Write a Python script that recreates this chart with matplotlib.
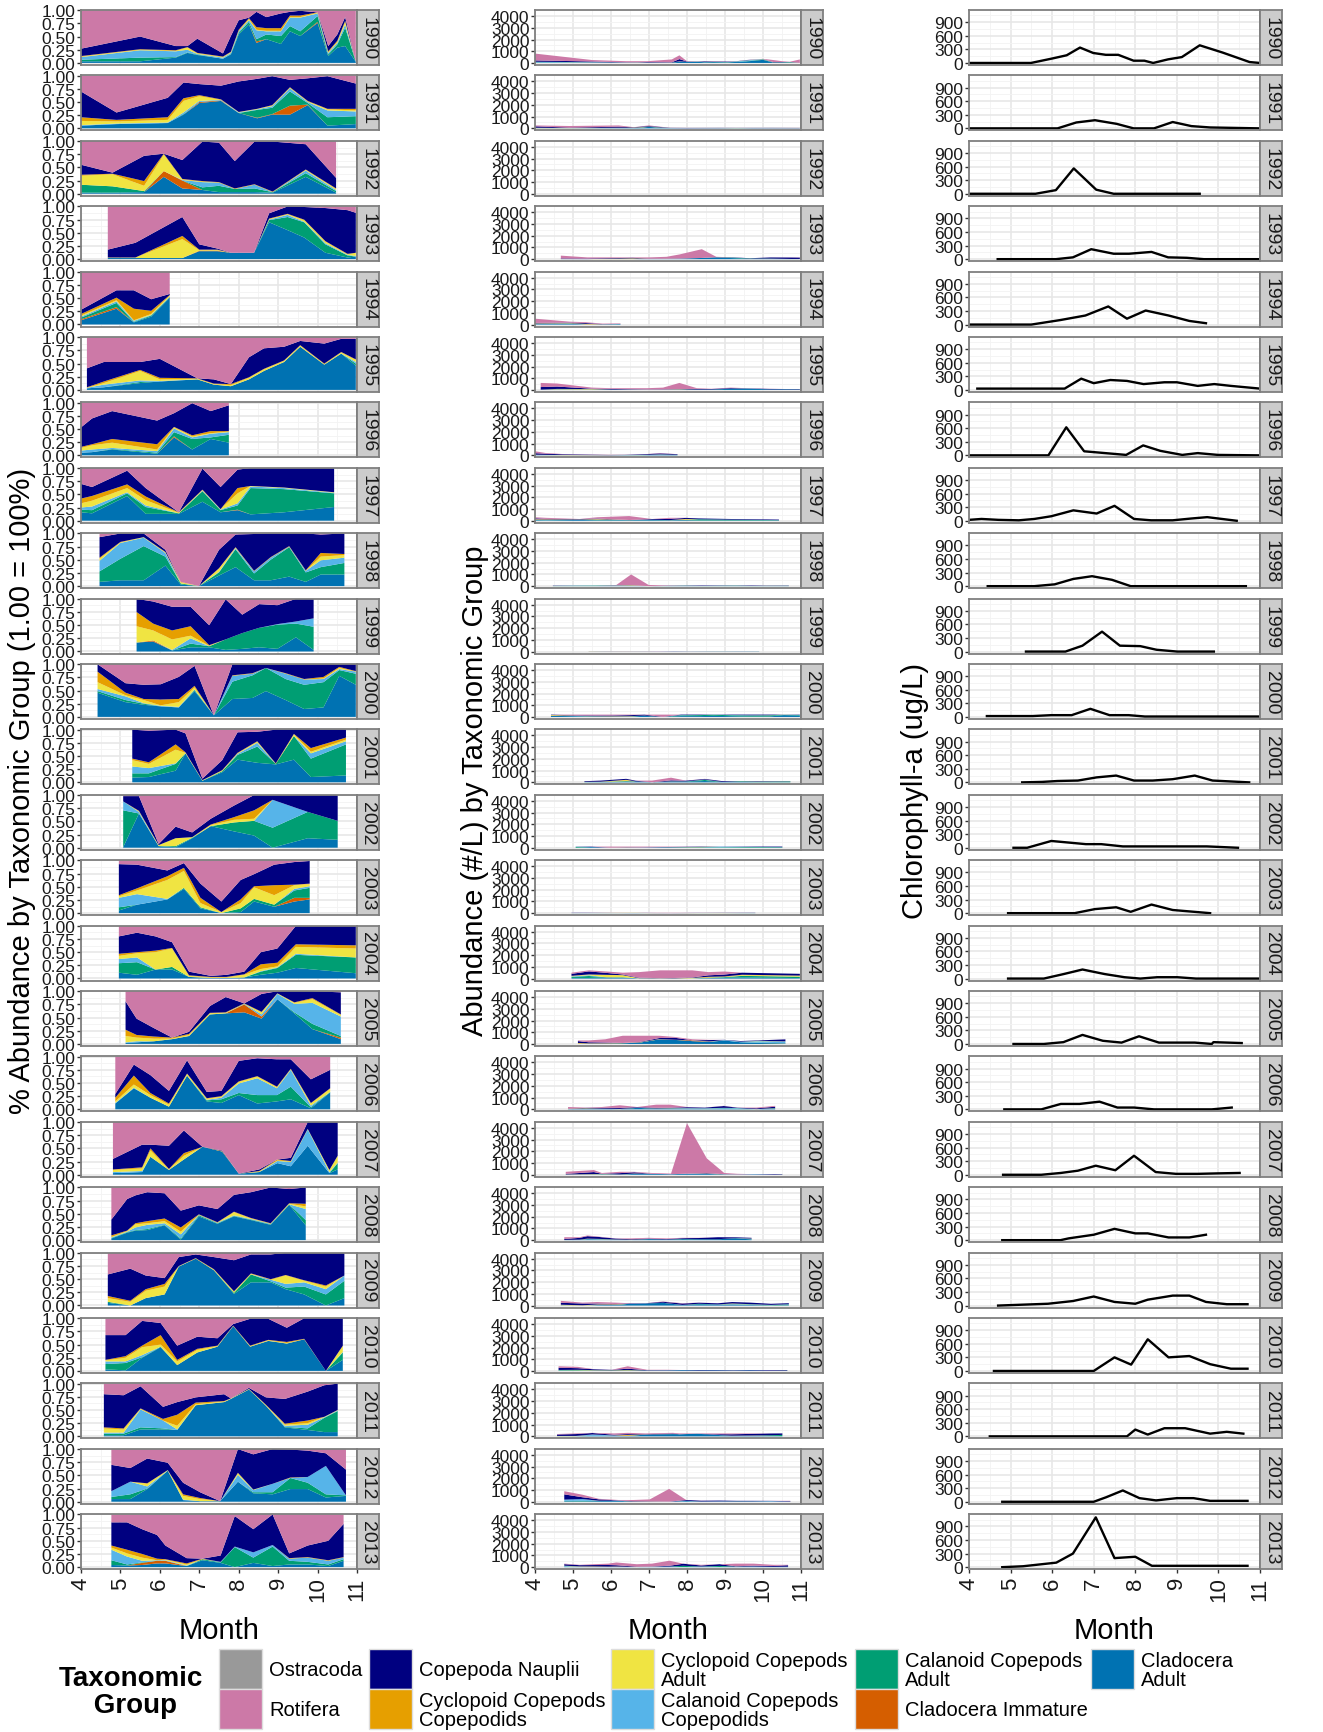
import numpy as np
import matplotlib.pyplot as plt
from matplotlib.patches import Rectangle

plt.rcParams['font.family'] = ['Liberation Sans', 'DejaVu Sans']

years = list(range(1990, 2014))

# legend order
groups = ['Ostracoda', 'Rotifera', 'Copepoda Nauplii', 'Cyclopoid Copepods\nCopepodids',
          'Cyclopoid Copepods\nAdult', 'Calanoid Copepods\nCopepodids', 'Calanoid Copepods\nAdult',
          'Cladocera Immature', 'Cladocera\nAdult']
group_colors = ['#999999', '#CC79A7', '#000080', '#E69F00', '#F0E442',
                '#56B4E9', '#009E73', '#D55E00', '#0072B2']

# sampling dates (month as decimal)
sample_month = {
    1990: [4.0, 5.5, 6.4, 6.7, 6.95, 7.6, 7.8, 8.0, 8.26, 8.45, 8.7, 9.07, 9.3, 9.56, 10.0, 10.27, 10.5, 10.7, 10.97],
    1991: [4.0, 4.9, 6.2, 6.6, 7.0, 7.55, 8.0, 8.47, 8.85, 9.3, 9.75, 10.25, 10.97],
    1992: [4.0, 4.8, 5.6, 6.1, 6.57, 7.08, 7.5, 7.9, 8.4, 8.86, 9.7, 10.47],
    1993: [4.68, 5.38, 6.57, 7.0, 7.46, 7.8, 8.39, 8.77, 9.24, 9.66, 10.2, 10.76, 10.97],
    1994: [4.0, 4.9, 5.34, 5.78, 6.25],
    1995: [4.15, 4.58, 5.5, 6.0, 6.95, 7.37, 7.8, 8.26, 8.64, 9.15, 9.56, 10.17, 10.6, 10.97],
    1996: [4.0, 4.28, 4.79, 5.93, 6.36, 6.82, 7.29, 7.75],
    1997: [4.0, 4.28, 5.17, 5.64, 6.48, 7.08, 7.54, 7.97, 8.3, 9.15, 10.42],
    1998: [4.47, 5.0, 5.59, 6.14, 6.53, 6.99, 7.5, 7.92, 8.39, 8.81, 9.28, 9.7, 10.08, 10.68],
    1999: [5.41, 5.83, 6.31, 6.78, 7.25, 7.67, 8.09, 8.52, 8.98, 9.45, 9.9],
    2000: [4.42, 5.13, 5.59, 6.02, 6.48, 6.88, 7.37, 7.84, 8.35, 8.69, 9.19, 9.66, 10.15, 10.55, 10.97],
    2001: [5.3, 5.72, 6.4, 6.65, 7.08, 7.58, 7.97, 8.47, 8.94, 9.4, 9.83, 10.72],
    2002: [5.07, 5.47, 5.97, 6.4, 6.82, 7.29, 7.88, 8.39, 8.86, 9.75, 10.51],
    2003: [4.96, 5.42, 6.19, 6.61, 7.03, 7.56, 8.05, 8.39, 8.9, 9.41, 9.8],
    2004: [4.96, 5.42, 5.89, 6.31, 6.74, 7.29, 7.69, 8.14, 8.56, 8.98, 9.45, 10.97],
    2005: [5.13, 5.41, 5.85, 6.31, 6.74, 7.27, 7.67, 8.14, 8.58, 8.98, 9.41, 9.87, 10.59],
    2006: [4.87, 5.34, 5.76, 6.23, 6.69, 7.19, 7.56, 8.0, 8.47, 8.97, 9.32, 9.83, 10.32],
    2007: [4.81, 5.55, 5.76, 6.23, 6.61, 7.08, 7.58, 8.0, 8.52, 8.98, 9.32, 9.75, 10.3, 10.51],
    2008: [4.77, 5.17, 5.38, 5.68, 6.12, 6.53, 6.99, 7.46, 7.88, 8.31, 8.81, 9.28, 9.7],
    2009: [4.68, 5.25, 5.64, 6.12, 6.48, 6.91, 7.37, 7.88, 8.31, 8.81, 9.19, 9.66, 10.21, 10.68],
    2010: [4.62, 5.13, 5.55, 6.02, 6.44, 6.95, 7.46, 7.86, 8.29, 8.75, 9.22, 9.66, 10.21, 10.64],
    2011: [4.58, 5.08, 5.51, 6.08, 6.44, 6.91, 7.63, 7.8, 8.26, 8.69, 9.17, 9.75, 10.17, 10.51],
    2012: [4.77, 5.25, 5.68, 6.2, 6.59, 7.02, 7.53, 7.98, 8.37, 8.86, 9.31, 9.75, 10.21, 10.72],
    2013: [4.77, 5.17, 5.55, 5.93, 6.14, 6.68, 7.08, 7.54, 7.9, 8.37, 8.86, 9.28, 9.75, 10.27, 10.66],
}

# cumulative share (upper edge of each group, stacked from Cladocera Adult upwards)
top_cladocera_adult = {
    1990: [0.03, 0.03, 0.1, 0.19, 0.15, 0.08, 0.16, 0.54, 0.73, 0.38, 0.45, 0.36, 0.6, 0.51, 0.76, 0.13, 0.29, 0.32, 0.02],
    1991: [0.05, 0.08, 0.1, 0.26, 0.48, 0.52, 0.29, 0.19, 0.26, 0.26, 0.44, 0.05, 0.08],
    1992: [0.02, 0.02, 0.03, 0.32, 0.1, 0.07, 0.03, 0.03, 0.03, 0.02, 0.32, 0.02],
    1993: [0.02, 0.02, 0.02, 0.15, 0.15, 0.12, 0.12, 0.7, 0.55, 0.41, 0.12, 0.03, 0.05],
    1994: [0.08, 0.3, 0.04, 0.15, 0.51],
    1995: [0.03, 0.05, 0.13, 0.16, 0.2, 0.1, 0.07, 0.2, 0.36, 0.53, 0.82, 0.48, 0.69, 0.46],
    1996: [0.05, 0.06, 0.11, 0.03, 0.34, 0.11, 0.31, 0.24],
    1997: [0.16, 0.14, 0.47, 0.13, 0.13, 0.36, 0.16, 0.2, 0.12, 0.16, 0.26],
    1998: [0.08, 0.11, 0.11, 0.39, 0.03, 0.0, 0.2, 0.36, 0.11, 0.11, 0.18, 0.08, 0.22, 0.22],
    1999: [0.17, 0.19, 0.02, 0.08, 0.08, 0.03, 0.05, 0.08, 0.05, 0.27, 0.03],
    2000: [0.46, 0.28, 0.23, 0.2, 0.18, 0.49, 0.03, 0.34, 0.36, 0.49, 0.32, 0.15, 0.18, 0.78, 0.61],
    2001: [0.09, 0.1, 0.22, 0.55, 0.03, 0.19, 0.43, 0.37, 0.34, 0.43, 0.1, 0.13],
    2002: [0.01, 0.65, 0.03, 0.01, 0.18, 0.41, 0.31, 0.23, 0.0, 0.18, 0.15],
    2003: [0.05, 0.16, 0.26, 0.46, 0.09, 0.0, 0.02, 0.22, 0.12, 0.22, 0.26],
    2004: [0.11, 0.07, 0.17, 0.17, 0.03, 0.01, 0.01, 0.02, 0.07, 0.11, 0.2, 0.1],
    2005: [0.02, 0.03, 0.05, 0.09, 0.15, 0.56, 0.58, 0.6, 0.48, 0.85, 0.58, 0.28, 0.09],
    2006: [0.11, 0.4, 0.22, 0.05, 0.64, 0.15, 0.12, 0.27, 0.11, 0.15, 0.19, 0.02, 0.32],
    2007: [0.03, 0.05, 0.34, 0.09, 0.29, 0.53, 0.44, 0.02, 0.05, 0.22, 0.16, 0.55, 0.03, 0.1],
    2008: [0.03, 0.14, 0.18, 0.19, 0.28, 0.01, 0.45, 0.31, 0.45, 0.38, 0.29, 0.67, 0.28],
    2009: [0.05, 0.0, 0.14, 0.21, 0.74, 0.89, 0.67, 0.22, 0.44, 0.44, 0.31, 0.21, 0.0, 0.14],
    2010: [0.03, 0.01, 0.25, 0.45, 0.11, 0.35, 0.46, 0.85, 0.46, 0.57, 0.52, 0.6, 0.0, 0.21],
    2011: [0.02, 0.02, 0.13, 0.13, 0.12, 0.59, 0.65, 0.71, 0.89, 0.58, 0.17, 0.12, 0.08, 0.08],
    2012: [0.05, 0.05, 0.24, 0.59, 0.03, 0.01, 0.01, 0.38, 0.16, 0.14, 0.24, 0.24, 0.08, 0.11],
    2013: [0.04, 0.03, 0.04, 0.07, 0.07, 0.02, 0.13, 0.08, 0.0, 0.08, 0.02, 0.05, 0.05, 0.02, 0.12],
}
top_cladocera_immature = {
    1990: [0.03, 0.03, 0.1, 0.19, 0.15, 0.08, 0.16, 0.54, 0.73, 0.41, 0.45, 0.36, 0.6, 0.51, 0.78, 0.13, 0.29, 0.32, 0.02],
    1991: [0.05, 0.08, 0.1, 0.26, 0.5, 0.53, 0.29, 0.2, 0.27, 0.43, 0.45, 0.05, 0.08],
    1992: [0.02, 0.02, 0.03, 0.43, 0.25, 0.07, 0.03, 0.03, 0.03, 0.02, 0.32, 0.02],
    1993: [0.02, 0.02, 0.02, 0.16, 0.16, 0.12, 0.12, 0.7, 0.55, 0.41, 0.12, 0.03, 0.05],
    1994: [0.1, 0.33, 0.04, 0.15, 0.51],
    1995: [0.03, 0.05, 0.13, 0.16, 0.2, 0.1, 0.07, 0.2, 0.36, 0.53, 0.82, 0.48, 0.69, 0.46],
    1996: [0.05, 0.06, 0.11, 0.03, 0.36, 0.11, 0.31, 0.24],
    1997: [0.16, 0.14, 0.47, 0.13, 0.13, 0.36, 0.16, 0.21, 0.12, 0.16, 0.26],
    1998: [0.08, 0.11, 0.11, 0.39, 0.03, 0.0, 0.2, 0.36, 0.11, 0.11, 0.18, 0.08, 0.22, 0.22],
    1999: [0.17, 0.21, 0.02, 0.08, 0.08, 0.03, 0.05, 0.08, 0.05, 0.27, 0.03],
    2000: [0.46, 0.28, 0.23, 0.2, 0.18, 0.49, 0.03, 0.34, 0.36, 0.49, 0.32, 0.15, 0.18, 0.78, 0.61],
    2001: [0.09, 0.1, 0.22, 0.55, 0.03, 0.19, 0.43, 0.37, 0.34, 0.43, 0.1, 0.13],
    2002: [0.01, 0.65, 0.03, 0.01, 0.18, 0.41, 0.31, 0.23, 0.0, 0.18, 0.15],
    2003: [0.05, 0.16, 0.26, 0.46, 0.09, 0.0, 0.02, 0.22, 0.12, 0.29, 0.29],
    2004: [0.11, 0.07, 0.17, 0.17, 0.03, 0.01, 0.01, 0.02, 0.07, 0.11, 0.2, 0.1],
    2005: [0.02, 0.03, 0.05, 0.09, 0.15, 0.56, 0.58, 0.75, 0.52, 0.85, 0.58, 0.28, 0.12],
    2006: [0.11, 0.4, 0.22, 0.05, 0.64, 0.15, 0.12, 0.27, 0.11, 0.15, 0.19, 0.02, 0.32],
    2007: [0.03, 0.05, 0.34, 0.09, 0.29, 0.53, 0.44, 0.02, 0.05, 0.22, 0.16, 0.55, 0.03, 0.1],
    2008: [0.03, 0.14, 0.18, 0.19, 0.28, 0.01, 0.45, 0.31, 0.45, 0.38, 0.29, 0.67, 0.28],
    2009: [0.05, 0.0, 0.14, 0.21, 0.74, 0.89, 0.67, 0.22, 0.44, 0.44, 0.31, 0.21, 0.0, 0.14],
    2010: [0.03, 0.01, 0.25, 0.45, 0.11, 0.35, 0.46, 0.85, 0.46, 0.57, 0.52, 0.6, 0.0, 0.21],
    2011: [0.02, 0.02, 0.13, 0.13, 0.12, 0.59, 0.65, 0.71, 0.89, 0.58, 0.17, 0.12, 0.08, 0.08],
    2012: [0.05, 0.05, 0.24, 0.59, 0.03, 0.01, 0.01, 0.38, 0.16, 0.14, 0.24, 0.24, 0.08, 0.11],
    2013: [0.04, 0.03, 0.08, 0.12, 0.12, 0.02, 0.13, 0.08, 0.0, 0.08, 0.02, 0.05, 0.05, 0.02, 0.12],
}
top_calanoid_adult = {
    1990: [0.06, 0.1, 0.11, 0.2, 0.16, 0.08, 0.17, 0.57, 0.78, 0.45, 0.54, 0.51, 0.7, 0.6, 0.89, 0.16, 0.35, 0.67, 0.02],
    1991: [0.05, 0.08, 0.1, 0.27, 0.5, 0.53, 0.29, 0.35, 0.39, 0.7, 0.48, 0.21, 0.23],
    1992: [0.17, 0.14, 0.05, 0.43, 0.25, 0.12, 0.15, 0.09, 0.1, 0.03, 0.39, 0.05],
    1993: [0.02, 0.02, 0.02, 0.16, 0.16, 0.12, 0.12, 0.74, 0.8, 0.7, 0.28, 0.07, 0.05],
    1994: [0.13, 0.41, 0.05, 0.17, 0.52],
    1995: [0.03, 0.05, 0.15, 0.16, 0.2, 0.1, 0.07, 0.2, 0.36, 0.53, 0.82, 0.48, 0.69, 0.5],
    1996: [0.05, 0.06, 0.12, 0.05, 0.44, 0.31, 0.34, 0.39],
    1997: [0.21, 0.2, 0.52, 0.26, 0.14, 0.56, 0.2, 0.29, 0.62, 0.6, 0.52],
    1998: [0.28, 0.52, 0.76, 0.56, 0.05, 0.0, 0.26, 0.7, 0.24, 0.5, 0.74, 0.26, 0.36, 0.44],
    1999: [0.17, 0.21, 0.02, 0.15, 0.1, 0.23, 0.35, 0.45, 0.51, 0.53, 0.47],
    2000: [0.49, 0.32, 0.25, 0.2, 0.18, 0.51, 0.03, 0.67, 0.79, 0.93, 0.72, 0.61, 0.66, 0.89, 0.82],
    2001: [0.17, 0.17, 0.35, 0.55, 0.03, 0.21, 0.52, 0.68, 0.35, 0.88, 0.45, 0.72],
    2002: [0.71, 0.65, 0.03, 0.03, 0.19, 0.41, 0.48, 0.51, 0.38, 0.68, 0.51],
    2003: [0.11, 0.16, 0.26, 0.48, 0.11, 0.0, 0.09, 0.27, 0.16, 0.43, 0.48],
    2004: [0.29, 0.31, 0.17, 0.22, 0.03, 0.01, 0.01, 0.02, 0.13, 0.2, 0.45, 0.4],
    2005: [0.02, 0.03, 0.05, 0.09, 0.15, 0.56, 0.58, 0.75, 0.52, 0.85, 0.6, 0.38, 0.15],
    2006: [0.11, 0.4, 0.22, 0.05, 0.64, 0.17, 0.19, 0.31, 0.27, 0.27, 0.43, 0.04, 0.33],
    2007: [0.03, 0.05, 0.34, 0.09, 0.29, 0.53, 0.44, 0.02, 0.05, 0.22, 0.16, 0.55, 0.03, 0.22],
    2008: [0.04, 0.15, 0.19, 0.21, 0.29, 0.03, 0.47, 0.32, 0.46, 0.39, 0.3, 0.68, 0.38],
    2009: [0.07, 0.0, 0.14, 0.21, 0.74, 0.89, 0.67, 0.24, 0.59, 0.46, 0.34, 0.36, 0.21, 0.47],
    2010: [0.13, 0.15, 0.26, 0.46, 0.11, 0.35, 0.46, 0.85, 0.46, 0.57, 0.52, 0.6, 0.0, 0.35],
    2011: [0.05, 0.05, 0.17, 0.15, 0.12, 0.59, 0.65, 0.71, 0.89, 0.58, 0.18, 0.15, 0.35, 0.48],
    2012: [0.09, 0.14, 0.25, 0.59, 0.03, 0.01, 0.01, 0.38, 0.18, 0.18, 0.45, 0.36, 0.14, 0.12],
    2013: [0.13, 0.05, 0.09, 0.12, 0.12, 0.02, 0.15, 0.09, 0.38, 0.18, 0.39, 0.12, 0.1, 0.05, 0.15],
}
top_calanoid_copepodids = {
    1990: [0.11, 0.24, 0.22, 0.25, 0.17, 0.1, 0.19, 0.6, 0.81, 0.62, 0.6, 0.6, 0.86, 0.86, 0.94, 0.19, 0.38, 0.73, 0.02],
    1991: [0.06, 0.09, 0.11, 0.3, 0.52, 0.54, 0.3, 0.36, 0.42, 0.76, 0.5, 0.34, 0.32],
    1992: [0.17, 0.14, 0.05, 0.43, 0.26, 0.22, 0.21, 0.09, 0.17, 0.03, 0.44, 0.07],
    1993: [0.02, 0.02, 0.02, 0.16, 0.16, 0.12, 0.12, 0.75, 0.84, 0.71, 0.3, 0.08, 0.06],
    1994: [0.15, 0.44, 0.07, 0.18, 0.53],
    1995: [0.04, 0.1, 0.18, 0.17, 0.2, 0.1, 0.07, 0.2, 0.36, 0.53, 0.82, 0.48, 0.69, 0.53],
    1996: [0.09, 0.11, 0.14, 0.08, 0.51, 0.34, 0.41, 0.44],
    1997: [0.25, 0.27, 0.54, 0.29, 0.14, 0.57, 0.21, 0.33, 0.65, 0.62, 0.53],
    1998: [0.48, 0.82, 0.92, 0.63, 0.05, 0.0, 0.27, 0.72, 0.28, 0.54, 0.75, 0.29, 0.49, 0.54],
    1999: [0.17, 0.21, 0.03, 0.25, 0.1, 0.23, 0.35, 0.45, 0.52, 0.57, 0.63],
    2000: [0.53, 0.39, 0.26, 0.21, 0.19, 0.52, 0.03, 0.78, 0.82, 0.93, 0.82, 0.71, 0.72, 0.91, 0.86],
    2001: [0.3, 0.27, 0.36, 0.55, 0.03, 0.21, 0.54, 0.75, 0.35, 0.88, 0.55, 0.78],
    2002: [0.88, 0.68, 0.03, 0.03, 0.19, 0.41, 0.48, 0.51, 0.91, 0.68, 0.51],
    2003: [0.29, 0.36, 0.27, 0.48, 0.11, 0.0, 0.09, 0.27, 0.16, 0.46, 0.51],
    2004: [0.37, 0.4, 0.17, 0.22, 0.03, 0.01, 0.01, 0.02, 0.14, 0.21, 0.47, 0.4],
    2005: [0.03, 0.05, 0.05, 0.09, 0.15, 0.56, 0.58, 0.76, 0.56, 0.95, 0.76, 0.78, 0.52],
    2006: [0.12, 0.41, 0.22, 0.05, 0.64, 0.18, 0.22, 0.49, 0.59, 0.4, 0.75, 0.07, 0.33],
    2007: [0.05, 0.07, 0.34, 0.09, 0.29, 0.53, 0.44, 0.02, 0.05, 0.26, 0.24, 0.86, 0.05, 0.23],
    2008: [0.05, 0.16, 0.24, 0.29, 0.32, 0.11, 0.48, 0.33, 0.47, 0.4, 0.31, 0.68, 0.59],
    2009: [0.07, 0.0, 0.14, 0.21, 0.74, 0.89, 0.67, 0.24, 0.59, 0.49, 0.41, 0.44, 0.31, 0.57],
    2010: [0.18, 0.18, 0.3, 0.46, 0.11, 0.35, 0.46, 0.85, 0.46, 0.57, 0.52, 0.6, 0.0, 0.36],
    2011: [0.07, 0.07, 0.51, 0.3, 0.13, 0.59, 0.65, 0.71, 0.89, 0.58, 0.2, 0.22, 0.36, 0.49],
    2012: [0.2, 0.38, 0.29, 0.59, 0.04, 0.01, 0.01, 0.51, 0.22, 0.34, 0.45, 0.47, 0.68, 0.12],
    2013: [0.33, 0.2, 0.12, 0.13, 0.13, 0.03, 0.15, 0.1, 0.39, 0.28, 0.42, 0.16, 0.18, 0.12, 0.18],
}
top_cyclopoid_adult = {
    1990: [0.12, 0.25, 0.23, 0.29, 0.18, 0.11, 0.2, 0.61, 0.83, 0.63, 0.61, 0.61, 0.87, 0.87, 0.95, 0.2, 0.4, 0.78, 0.02],
    1991: [0.14, 0.13, 0.16, 0.52, 0.61, 0.54, 0.31, 0.37, 0.43, 0.77, 0.51, 0.36, 0.34],
    1992: [0.34, 0.37, 0.15, 0.74, 0.27, 0.23, 0.21, 0.09, 0.17, 0.03, 0.45, 0.09],
    1993: [0.03, 0.03, 0.38, 0.17, 0.17, 0.12, 0.12, 0.76, 0.85, 0.74, 0.33, 0.09, 0.12],
    1994: [0.17, 0.46, 0.08, 0.2, 0.55],
    1995: [0.04, 0.13, 0.36, 0.2, 0.21, 0.11, 0.09, 0.23, 0.39, 0.55, 0.84, 0.49, 0.71, 0.57],
    1996: [0.14, 0.19, 0.24, 0.11, 0.53, 0.36, 0.42, 0.45],
    1997: [0.33, 0.38, 0.62, 0.39, 0.15, 0.58, 0.22, 0.52, 0.66, 0.63, 0.54],
    1998: [0.52, 0.83, 0.93, 0.64, 0.07, 0.0, 0.33, 0.73, 0.28, 0.54, 0.75, 0.29, 0.56, 0.59],
    1999: [0.48, 0.4, 0.23, 0.3, 0.11, 0.23, 0.35, 0.45, 0.52, 0.57, 0.63],
    2000: [0.66, 0.41, 0.32, 0.22, 0.28, 0.56, 0.03, 0.78, 0.82, 0.93, 0.82, 0.71, 0.73, 0.93, 0.86],
    2001: [0.42, 0.35, 0.62, 0.56, 0.04, 0.22, 0.55, 0.77, 0.35, 0.91, 0.58, 0.81],
    2002: [0.88, 0.69, 0.05, 0.18, 0.2, 0.43, 0.53, 0.55, 0.91, 0.68, 0.51],
    2003: [0.32, 0.43, 0.63, 0.8, 0.19, 0.02, 0.19, 0.49, 0.34, 0.53, 0.55],
    2004: [0.43, 0.48, 0.5, 0.57, 0.05, 0.02, 0.02, 0.07, 0.18, 0.23, 0.6, 0.57],
    2005: [0.15, 0.12, 0.1, 0.1, 0.17, 0.58, 0.59, 0.76, 0.6, 0.96, 0.78, 0.85, 0.55],
    2006: [0.15, 0.47, 0.27, 0.09, 0.67, 0.2, 0.24, 0.52, 0.62, 0.42, 0.76, 0.11, 0.39],
    2007: [0.09, 0.12, 0.46, 0.1, 0.36, 0.53, 0.44, 0.02, 0.06, 0.27, 0.25, 0.87, 0.09, 0.36],
    2008: [0.06, 0.17, 0.3, 0.32, 0.36, 0.16, 0.48, 0.33, 0.53, 0.41, 0.31, 0.69, 0.64],
    2009: [0.14, 0.07, 0.28, 0.36, 0.75, 0.89, 0.68, 0.26, 0.6, 0.49, 0.57, 0.47, 0.36, 0.57],
    2010: [0.2, 0.25, 0.45, 0.5, 0.18, 0.4, 0.47, 0.85, 0.47, 0.58, 0.53, 0.6, 0.0, 0.47],
    2011: [0.15, 0.13, 0.52, 0.3, 0.2, 0.61, 0.66, 0.72, 0.9, 0.59, 0.22, 0.25, 0.37, 0.5],
    2012: [0.2, 0.38, 0.34, 0.6, 0.11, 0.05, 0.01, 0.54, 0.23, 0.34, 0.45, 0.47, 0.68, 0.12],
    2013: [0.37, 0.26, 0.18, 0.13, 0.14, 0.05, 0.15, 0.1, 0.39, 0.28, 0.42, 0.16, 0.18, 0.12, 0.18],
}
top_cyclopoid_copepodids = {
    1990: [0.13, 0.26, 0.24, 0.3, 0.19, 0.12, 0.21, 0.63, 0.85, 0.68, 0.66, 0.66, 0.9, 0.9, 0.96, 0.22, 0.42, 0.8, 0.02],
    1991: [0.21, 0.16, 0.21, 0.57, 0.63, 0.55, 0.31, 0.37, 0.44, 0.78, 0.52, 0.37, 0.37],
    1992: [0.36, 0.38, 0.24, 0.76, 0.28, 0.24, 0.22, 0.1, 0.18, 0.04, 0.46, 0.1],
    1993: [0.03, 0.03, 0.44, 0.18, 0.18, 0.12, 0.12, 0.77, 0.86, 0.75, 0.34, 0.1, 0.12],
    1994: [0.2, 0.51, 0.3, 0.26, 0.56],
    1995: [0.05, 0.16, 0.38, 0.23, 0.22, 0.12, 0.11, 0.24, 0.4, 0.56, 0.85, 0.5, 0.72, 0.58],
    1996: [0.16, 0.21, 0.31, 0.21, 0.54, 0.38, 0.46, 0.46],
    1997: [0.42, 0.47, 0.69, 0.46, 0.16, 0.59, 0.22, 0.62, 0.66, 0.63, 0.54],
    1998: [0.54, 0.84, 0.93, 0.65, 0.08, 0.0, 0.34, 0.74, 0.29, 0.55, 0.76, 0.3, 0.63, 0.61],
    1999: [0.75, 0.53, 0.4, 0.48, 0.12, 0.23, 0.35, 0.45, 0.52, 0.57, 0.63],
    2000: [0.86, 0.46, 0.34, 0.33, 0.34, 0.59, 0.03, 0.79, 0.83, 0.93, 0.83, 0.72, 0.76, 0.95, 0.87],
    2001: [0.45, 0.38, 0.72, 0.57, 0.04, 0.23, 0.56, 0.78, 0.36, 0.92, 0.65, 0.85],
    2002: [0.88, 0.7, 0.05, 0.18, 0.2, 0.44, 0.58, 0.71, 0.91, 0.68, 0.51],
    2003: [0.34, 0.47, 0.7, 0.86, 0.29, 0.02, 0.26, 0.51, 0.53, 0.54, 0.56],
    2004: [0.47, 0.5, 0.53, 0.58, 0.06, 0.03, 0.03, 0.08, 0.27, 0.3, 0.65, 0.63],
    2005: [0.27, 0.17, 0.14, 0.12, 0.19, 0.59, 0.6, 0.77, 0.61, 0.96, 0.79, 0.87, 0.56],
    2006: [0.22, 0.64, 0.31, 0.11, 0.68, 0.21, 0.25, 0.53, 0.63, 0.43, 0.77, 0.12, 0.4],
    2007: [0.1, 0.14, 0.5, 0.11, 0.41, 0.53, 0.45, 0.02, 0.07, 0.29, 0.26, 0.87, 0.09, 0.36],
    2008: [0.09, 0.18, 0.32, 0.36, 0.41, 0.24, 0.49, 0.34, 0.54, 0.42, 0.32, 0.7, 0.69],
    2009: [0.18, 0.09, 0.31, 0.41, 0.75, 0.9, 0.69, 0.27, 0.61, 0.5, 0.58, 0.48, 0.38, 0.57],
    2010: [0.21, 0.28, 0.48, 0.68, 0.21, 0.42, 0.48, 0.86, 0.48, 0.59, 0.55, 0.61, 0.0, 0.48],
    2011: [0.17, 0.15, 0.53, 0.33, 0.41, 0.64, 0.67, 0.72, 0.9, 0.6, 0.24, 0.3, 0.37, 0.5],
    2012: [0.2, 0.38, 0.35, 0.6, 0.14, 0.07, 0.01, 0.55, 0.23, 0.34, 0.46, 0.47, 0.68, 0.12],
    2013: [0.41, 0.33, 0.25, 0.16, 0.15, 0.07, 0.16, 0.1, 0.39, 0.28, 0.42, 0.17, 0.19, 0.13, 0.19],
}
top_nauplii = {
    1990: [0.27, 0.5, 0.32, 0.32, 0.46, 0.18, 0.51, 0.81, 0.86, 0.97, 0.87, 0.94, 0.97, 0.99, 0.96, 0.32, 0.54, 0.87, 0.02],
    1991: [0.7, 0.3, 0.58, 0.87, 0.84, 0.81, 0.89, 0.94, 0.99, 0.92, 0.95, 0.99, 0.85],
    1992: [0.55, 0.4, 0.72, 0.73, 0.64, 0.99, 0.97, 0.62, 0.99, 0.99, 0.94, 0.3],
    1993: [0.18, 0.31, 0.8, 0.28, 0.2, 0.12, 0.12, 0.87, 1.0, 0.99, 0.97, 0.93, 0.88],
    1994: [0.28, 0.65, 0.65, 0.48, 0.58],
    1995: [0.41, 0.53, 0.53, 0.59, 0.2, 0.2, 0.1, 0.62, 0.79, 0.82, 0.93, 0.88, 0.97, 0.97],
    1996: [0.53, 0.7, 0.84, 0.66, 0.8, 0.99, 0.84, 0.95],
    1997: [0.7, 0.64, 0.95, 0.62, 0.13, 0.99, 0.64, 0.97, 1.0, 1.0, 1.0],
    1998: [0.93, 1.0, 1.0, 0.69, 0.05, 0.0, 0.69, 0.98, 0.99, 1.0, 1.0, 1.0, 0.98, 1.0],
    1999: [1.0, 0.95, 0.85, 0.85, 0.5, 0.99, 0.7, 0.9, 0.88, 1.0, 1.0],
    2000: [1.0, 0.64, 0.61, 0.62, 0.76, 0.97, 0.03, 1.0, 1.0, 1.0, 1.0, 1.0, 1.0, 1.0, 1.0],
    2001: [1.0, 0.98, 1.0, 0.93, 0.07, 0.42, 0.95, 0.96, 1.0, 1.0, 1.0, 1.0],
    2002: [0.98, 0.98, 0.07, 0.4, 0.29, 0.55, 0.8, 1.0, 1.0, 1.0, 1.0],
    2003: [0.93, 0.92, 0.81, 0.95, 0.56, 0.22, 0.63, 0.74, 0.92, 0.97, 0.99],
    2004: [0.8, 0.87, 0.8, 0.69, 0.13, 0.05, 0.07, 0.13, 0.5, 0.57, 1.0, 1.0],
    2005: [0.81, 0.48, 0.3, 0.12, 0.23, 0.72, 0.89, 0.76, 0.95, 1.0, 1.0, 1.0, 0.98],
    2006: [0.29, 0.85, 0.65, 0.35, 0.93, 0.33, 0.35, 0.92, 0.97, 0.95, 0.95, 0.57, 0.75],
    2007: [0.3, 0.57, 0.57, 0.55, 0.84, 0.53, 0.46, 0.02, 0.1, 0.26, 0.32, 1.0, 1.0, 1.0],
    2008: [0.39, 0.78, 0.85, 0.91, 0.89, 0.56, 0.66, 0.59, 0.86, 0.91, 1.0, 0.97, 1.0],
    2009: [0.59, 0.7, 0.57, 0.52, 0.92, 0.97, 0.92, 0.86, 0.97, 0.97, 1.0, 1.0, 1.0, 1.0],
    2010: [0.68, 0.68, 0.95, 0.91, 0.48, 0.65, 0.62, 0.89, 0.99, 0.99, 0.82, 1.0, 1.0, 1.0],
    2011: [0.8, 0.78, 0.95, 0.56, 0.65, 0.74, 0.8, 0.71, 0.92, 0.74, 0.71, 0.85, 0.97, 1.0],
    2012: [0.7, 0.64, 0.82, 0.74, 0.36, 0.18, 0.01, 1.0, 0.9, 1.0, 0.99, 0.97, 0.92, 0.61],
    2013: [0.85, 0.85, 0.72, 0.61, 0.41, 0.17, 0.15, 0.22, 0.97, 0.72, 1.0, 0.26, 0.41, 0.5, 0.82],
}

# total abundance (#/L) per sample
total_abundance = {
    1990: [800, 250, 150, 150, 150, 300, 650, 150, 150, 150, 150, 120, 150, 250, 350, 250, 150, 100, 300],
    1991: [250, 200, 250, 100, 250, 50, 40, 40, 40, 40, 40, 40, 40],
    1992: [0, 0, 0, 0, 0, 0, 0, 0, 0, 0, 0, 0],
    1993: [300, 150, 150, 150, 200, 400, 850, 200, 150, 80, 150, 150, 150],
    1994: [500, 250, 200, 80, 100],
    1995: [600, 550, 200, 150, 150, 200, 600, 150, 100, 200, 150, 100, 80, 80],
    1996: [350, 200, 100, 50, 50, 80, 200, 100],
    1997: [300, 250, 150, 300, 400, 150, 250, 250, 200, 150, 100],
    1998: [50, 50, 50, 100, 1000, 100, 50, 50, 50, 50, 50, 50, 50, 50],
    1999: [20, 20, 20, 20, 20, 20, 20, 20, 20, 20, 20],
    2000: [200, 200, 200, 200, 200, 200, 200, 200, 200, 200, 200, 200, 200, 200, 200],
    2001: [100, 150, 300, 150, 150, 400, 150, 300, 100, 100, 100, 100],
    2002: [100, 100, 100, 100, 100, 100, 100, 100, 100, 100, 100],
    2003: [30, 30, 30, 30, 30, 30, 30, 30, 30, 30, 30],
    2004: [500, 700, 600, 500, 550, 700, 700, 700, 550, 600, 500, 400],
    2005: [300, 300, 400, 700, 700, 700, 600, 400, 350, 350, 250, 300, 400],
    2006: [200, 150, 200, 350, 200, 400, 400, 200, 150, 300, 150, 150, 300],
    2007: [250, 400, 150, 250, 250, 150, 100, 4400, 1400, 150, 80, 50, 50, 50],
    2008: [250, 250, 400, 300, 150, 150, 200, 150, 200, 200, 250, 250, 200],
    2009: [400, 250, 300, 250, 200, 200, 350, 200, 250, 200, 300, 250, 150, 200],
    2010: [400, 350, 150, 100, 400, 100, 100, 80, 80, 80, 80, 80, 50, 80],
    2011: [200, 250, 300, 250, 300, 250, 300, 250, 250, 250, 250, 250, 250, 250],
    2012: [900, 600, 250, 150, 150, 200, 1100, 150, 100, 100, 80, 80, 80, 80],
    2013: [300, 200, 250, 300, 400, 250, 300, 550, 300, 200, 250, 300, 300, 200, 200],
}

# chlorophyll-a (ug/L)
chl_month = {
    1990: [4.0, 5.49, 6.01, 6.35, 6.67, 6.99, 7.29, 7.59, 7.96, 8.22, 8.43, 8.79, 9.12, 9.55, 10.1, 10.75, 11.0],
    1991: [4.0, 6.13, 6.58, 7.03, 7.55, 7.96, 8.45, 8.9, 9.35, 9.8, 11.0],
    1992: [4.0, 5.6, 6.09, 6.52, 7.06, 7.48, 9.55],
    1993: [4.69, 6.09, 6.5, 6.94, 7.48, 7.85, 8.39, 8.79, 9.24, 9.65, 11.0],
    1994: [4.0, 5.5, 6.2, 6.8, 7.35, 7.8, 8.25, 8.8, 9.3, 9.7],
    1995: [4.2, 6.3, 6.7, 7.0, 7.4, 7.8, 8.2, 8.7, 9.0, 9.5, 9.9, 10.3, 11.0],
    1996: [4.0, 5.91, 6.34, 6.77, 7.78, 8.19, 8.6, 9.13, 9.5, 9.99, 11.0],
    1997: [4.0, 4.3, 4.71, 5.2, 5.57, 5.98, 6.51, 7.07, 7.5, 7.97, 8.38, 8.9, 9.35, 9.73, 10.44],
    1998: [4.45, 5.57, 6.06, 6.51, 6.96, 7.44, 7.89, 10.66],
    1999: [5.37, 6.32, 6.73, 7.2, 7.63, 8.12, 8.51, 9.01, 9.89],
    2000: [4.43, 5.53, 5.98, 6.47, 6.92, 7.38, 7.84, 8.23, 10.96],
    2001: [5.28, 5.76, 6.13, 6.62, 7.07, 7.54, 7.97, 8.42, 8.9, 9.43, 9.86, 10.74],
    2002: [5.07, 5.4, 5.98, 6.81, 7.18, 7.7, 9.72, 10.47],
    2003: [4.94, 6.54, 7.03, 7.54, 7.89, 8.39, 8.9, 9.8],
    2004: [4.94, 5.8, 6.28, 6.73, 7.26, 7.74, 8.12, 8.53, 9.01, 9.46, 11.0],
    2005: [5.07, 5.8, 6.27, 6.73, 7.22, 7.67, 8.09, 8.57, 9.43, 9.84, 9.88, 10.56],
    2006: [4.85, 5.74, 6.21, 6.66, 7.14, 7.57, 7.97, 8.45, 9.84, 10.32],
    2007: [4.82, 5.74, 6.21, 6.62, 7.05, 7.52, 7.97, 8.49, 8.98, 9.5, 9.95, 10.51],
    2008: [4.8, 6.2, 6.4, 7.0, 7.5, 8.0, 8.3, 8.8, 9.3, 9.7],
    2009: [4.7, 5.9, 6.5, 7.0, 7.5, 8.0, 8.3, 8.9, 9.3, 9.7, 10.2, 10.7],
    2010: [4.6, 7.0, 7.5, 7.9, 8.3, 8.8, 9.3, 9.8, 10.3, 10.7],
    2011: [4.5, 7.8, 8.0, 8.3, 8.7, 9.2, 9.8, 10.2, 10.6],
    2012: [4.8, 7.0, 7.3, 7.7, 8.1, 8.5, 9.0, 9.4, 9.8, 10.7],
    2013: [4.8, 5.3, 6.1, 6.5, 7.05, 7.5, 8.0, 8.4, 10.7],
}
chl_value = {
    1990: [0, 0, 100, 170, 340, 220, 180, 180, 50, 50, 0, 80, 130, 390, 230, 20, 0],
    1991: [0, 0, 130, 180, 100, 0, 0, 140, 50, 20, 0],
    1992: [0, 0, 80, 560, 90, 0, 0],
    1993: [0, 0, 40, 220, 120, 120, 160, 40, 30, 0, 0],
    1994: [0, 0, 100, 200, 400, 130, 310, 200, 80, 30],
    1995: [30, 30, 250, 150, 220, 200, 130, 170, 170, 90, 130, 90, 30],
    1996: [0, 0, 620, 90, 10, 220, 100, 10, 50, 10, 0],
    1997: [20, 40, 20, 10, 40, 100, 230, 160, 330, 40, 10, 10, 50, 80, 0],
    1998: [0, 0, 40, 160, 220, 140, 0, 0],
    1999: [0, 0, 130, 440, 130, 120, 40, 0, 0],
    2000: [20, 20, 40, 40, 180, 40, 40, 10, 10],
    2001: [0, 10, 30, 40, 110, 150, 40, 40, 70, 150, 40, 0],
    2002: [0, 0, 150, 80, 80, 30, 30, 0],
    2003: [0, 0, 90, 130, 30, 190, 70, 0],
    2004: [0, 0, 100, 200, 100, 30, 0, 30, 30, 0, 0],
    2005: [0, 0, 40, 200, 70, 30, 170, 30, 30, 0, 40, 20],
    2006: [0, 0, 120, 120, 170, 40, 40, 0, 0, 40],
    2007: [0, 0, 40, 90, 200, 100, 420, 60, 20, 20, 30, 40],
    2008: [0, 0, 40, 120, 250, 150, 150, 60, 60, 120],
    2009: [0, 40, 100, 200, 80, 40, 130, 220, 220, 80, 30, 30],
    2010: [0, 0, 300, 140, 700, 300, 330, 150, 50, 50],
    2011: [0, 0, 150, 40, 180, 180, 60, 100, 60],
    2012: [0, 0, 100, 250, 80, 30, 80, 80, 20, 20],
    2013: [0, 20, 100, 300, 1100, 200, 230, 30, 30],
}

edge_tables = [top_cladocera_adult, top_cladocera_immature, top_calanoid_adult,
               top_calanoid_copepodids, top_cyclopoid_adult, top_cyclopoid_copepodids, top_nauplii]
stack_colors = group_colors[::-1]   # bottom of stack = Cladocera Adult


def group_shares(year):
    n = len(sample_month[year])
    edges = np.vstack([np.zeros(n)] + [np.array(t[year], float) for t in edge_tables] + [np.ones(n)])
    edges = np.clip(np.maximum.accumulate(edges, axis=0), 0, 1)
    shares = np.diff(edges, axis=0)           # 8 groups, Cladocera Adult .. Rotifera
    return np.vstack([shares, np.zeros(n)])   # Ostracoda on top


W, H = 1323, 1733
fig = plt.figure(figsize=(W / 100, H / 100), dpi=100)

# panel left, panel right, strip right (pixels)
columns = [(81, 357, 379), (535, 801, 823), (969, 1260, 1282)]
row_top0, row_pitch, row_h = 11, 65.4, 55

ylims = [(-0.04, 1.005), (-175, 4520), (-45, 1170)]
yticks = [[0, 0.25, 0.5, 0.75, 1.0], [0, 1000, 2000, 3000, 4000], [0, 300, 600, 900]]
ytick_labels = [['0.00', '0.25', '0.50', '0.75', '1.00'],
                ['0', '1000', '2000', '3000', '4000'],
                ['0', '300', '600', '900']]
yminor = [[0.125, 0.375, 0.625, 0.875], [500, 1500, 2500, 3500], [150, 450, 750, 1050]]
month_ticks = [4, 5, 6, 7, 8, 9, 10, 11]
border = '#7f7f7f'

for i, year in enumerate(years):
    top = row_top0 + row_pitch * i
    for c, (left, right, sright) in enumerate(columns):
        ax = fig.add_axes([left / W, 1 - (top + row_h) / H, (right - left) / W, row_h / H])
        ax.set_xlim(4, 11)
        ax.set_ylim(*ylims[c])
        ax.set_axisbelow(True)

        if c == 0:
            ax.stackplot(sample_month[year], group_shares(year), colors=stack_colors, linewidth=0)
        elif c == 1:
            ab = group_shares(year) * np.array(total_abundance[year], float)
            ax.stackplot(sample_month[year], ab, colors=stack_colors, linewidth=0)
        else:
            ax.plot(chl_month[year], chl_value[year], color='black', lw=1.7)

        ax.set_yticks(yticks[c])
        ax.set_yticklabels(ytick_labels[c])
        ax.set_yticks(yminor[c], minor=True)
        ax.set_xticks(month_ticks)
        ax.set_xticks(np.arange(4.5, 11, 1.0), minor=True)
        ax.grid(which='major', color='#e6e6e6', lw=1.1)
        ax.grid(which='minor', color='#f3f3f3', lw=0.6)
        ax.tick_params(axis='y', which='major', length=3, width=1, color='#333333',
                       labelsize=12.5, pad=1, labelcolor='#1a1a1a')
        ax.tick_params(which='minor', length=0)
        if i == len(years) - 1:
            ax.tick_params(axis='x', which='major', length=3, width=1, color='#333333',
                           labelsize=16, pad=2, labelcolor='#1a1a1a', labelrotation=90)
            ax.set_xticklabels([str(m) for m in month_ticks])
        else:
            ax.tick_params(axis='x', which='major', length=0, labelbottom=False)
        for sp in ax.spines.values():
            sp.set_color(border)
            sp.set_linewidth(1.3)

        sax = fig.add_axes([right / W, 1 - (top + row_h) / H, (sright - right) / W, row_h / H])
        sax.set_facecolor('#cccccc')
        sax.set_xticks([])
        sax.set_yticks([])
        for sp in sax.spines.values():
            sp.set_color(border)
            sp.set_linewidth(1.3)
        sax.text(0.5, 0.5, str(year), rotation=270, ha='center', va='center',
                 fontsize=14, color='#1a1a1a', transform=sax.transAxes)

# axis titles
panel_mid = 1 - (row_top0 + row_pitch * 23 + row_h + row_top0) / 2 / H
fig.text(22 / W, panel_mid, '% Abundance by Taxonomic Group (1.00 = 100%)', rotation=90,
         ha='center', va='center', fontsize=21)
fig.text(475 / W, panel_mid, 'Abundance (#/L) by Taxonomic Group', rotation=90,
         ha='center', va='center', fontsize=21)
fig.text(915 / W, panel_mid, 'Chlorophyll-a (ug/L)', rotation=90,
         ha='center', va='center', fontsize=21)
for left, right, _ in columns:
    fig.text((left + right) / 2 / W, 1 - 1631 / H, 'Month', ha='center', va='center', fontsize=21)

# legend
lax = fig.add_axes([0, 0, 1, 1], facecolor='none')
lax.set_xlim(0, W)
lax.set_ylim(H, 0)
lax.axis('off')
lax.text(131, 1693, 'Taxonomic\n Group', ha='center', va='center', fontsize=20,
         fontweight='bold', linespacing=1.05)
key_x = [219, 369, 611, 855, 1091]
key_y = [1650, 1690]
key_w, key_h = 43, 40
for k, (name, col) in enumerate(zip(groups, group_colors)):
    cx, ry = key_x[k // 2], key_y[k % 2]
    lax.add_patch(Rectangle((cx, ry), key_w, key_h, facecolor=col, edgecolor='#dddddd', lw=1))
    lax.text(cx + key_w + 7, ry + key_h / 2 + 1, name, ha='left', va='center',
             fontsize=14.5, linespacing=0.95)

fig.savefig('out.png', dpi=100)
